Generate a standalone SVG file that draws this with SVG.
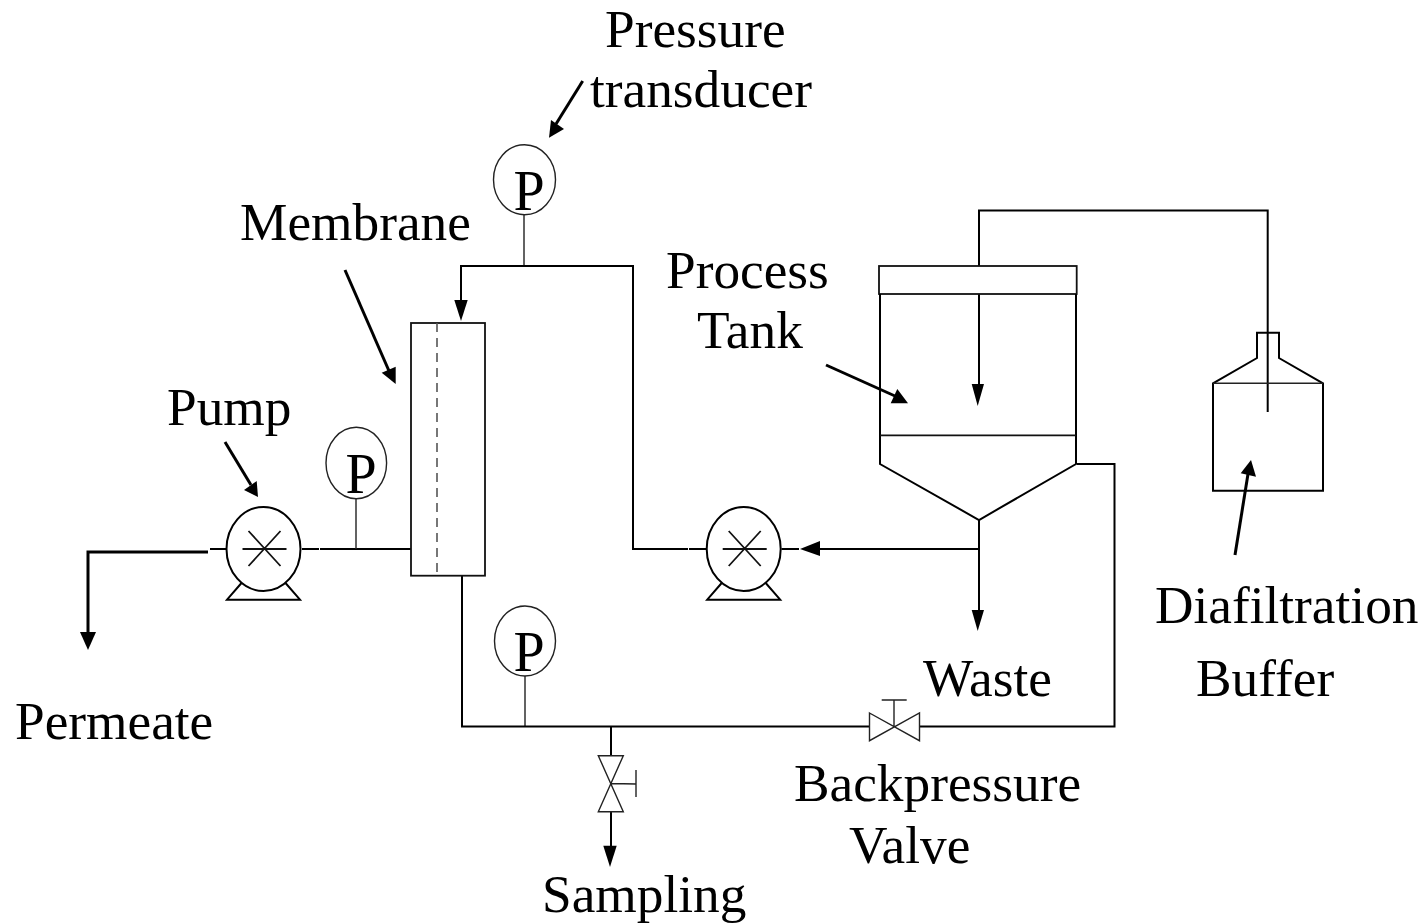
<svg xmlns="http://www.w3.org/2000/svg" width="1424" height="923" viewBox="0 0 1424 923">
<style>
.bg{fill:#fff}
.l,.s,.t,.g{fill:none;stroke:#000}
.l{stroke-width:2}
.s{stroke-width:1.8;stroke:#111}
.t{stroke-width:1.4;stroke:#222}
.g{stroke-width:3}
.d{fill:none;stroke:#555;stroke-width:1.6;stroke-dasharray:9 6}
.h{fill:#000;stroke:none}
text{font-family:"Liberation Serif","Times New Roman",serif;font-size:53.300px;fill:#000}
text.p{font-size:56px}
</style>
<defs>
<g id="pump">
<ellipse class="l" cx="0" cy="0" rx="37" ry="42"/>
<path class="s" d="M-21 0H23M-15 -18L17 17M17 -18L-15 17"/>
<path class="l" d="M-22 34L-36.500 50.700H36.500L22 34"/>
</g>
</defs>
<rect class="bg" width="1424" height="923"/>
<g id="connectors">
<path class="g" d="M208 552H88V634"/>
<polygon class="h" points="80,632 96,632 88,650"/>
<path class="l" d="M210 549H227M302 549H319M320 549H411"/>
<path class="t" d="M356 498V549M524 214V266M525 676V727"/>
<path class="l" d="M461 304V266H633V549H688M689 549H707"/>
<polygon class="h" points="454.300,300 467.700,300 461,321"/>
<path class="l" d="M781.500 549H799M818 549H979"/>
<polygon class="h" points="800,549 820,541 820,556"/>
<path class="l" d="M979 520V612"/>
<polygon class="h" points="971.700,610 984,610 977.700,631"/>
<path class="l" d="M979 294V386"/>
<polygon class="h" points="971.700,384 984,384 977.700,406"/>
<path class="l" d="M979 266V210.500H1267.700V412"/>
<path class="l" d="M1077 464H1114.500V726.500H920M870 726.500H462V576"/>
<path class="l" d="M611 727V755M611 812V847"/>
<polygon class="h" points="603.300,845.700 616.700,845.700 610,867"/>
<path class="g" d="M582.700 81L556 124"/>
<polygon class="h" points="549,137.700 551,120 564,129"/>
<path class="g" d="M345 270L389 371"/>
<polygon class="h" points="395.700,384 381.700,372.700 395.700,366.700"/>
<path class="g" d="M826 365L895 396"/>
<polygon class="h" points="908,403.300 890.700,403.300 897.300,389"/>
<path class="g" d="M225 442L251 485"/>
<polygon class="h" points="258,497 244,490 256.700,481"/>
<path class="g" d="M1235 555L1248 474"/>
<polygon class="h" points="1251,460 1240.700,473.300 1256,476.700"/>
</g>
<g id="pump-1"><use href="#pump" x="263.500" y="549"/></g>
<g id="pump-2"><use href="#pump" x="743.700" y="549"/></g>
<g id="gauge-top"><ellipse class="t" cx="524.500" cy="179.700" rx="31" ry="35"/><text class="p" x="529" y="210" text-anchor="middle">P</text></g>
<g id="gauge-left"><ellipse class="t" cx="356.300" cy="463" rx="30.300" ry="35.700"/><text class="p" x="361" y="493" text-anchor="middle">P</text></g>
<g id="gauge-bottom"><ellipse class="t" cx="525" cy="641" rx="30.500" ry="35"/><text class="p" x="529" y="671" text-anchor="middle">P</text></g>
<g id="membrane">
<rect class="s" x="411" y="323" width="74" height="252.700"/>
<path class="d" d="M437 323V575"/>
</g>
<g id="process-tank">
<rect class="s" x="879" y="266" width="197.700" height="28"/>
<path class="l" d="M880 294V464L979 520L1076 464V294"/>
<path class="s" d="M880 435.300H1076"/>
</g>
<g id="buffer-bottle">
<path class="l" d="M1213 383.300V490.700H1323V383.300L1279 358V332.700H1257V358Z"/>
<path class="t" d="M1213 383.300H1323"/>
</g>
<g id="backpressure-valve">
<path class="t" d="M869.500 713L919.500 740.700V713L869.500 740.700ZM894 727V700M881.700 700H906.700"/>
</g>
<g id="sampling-valve">
<path class="t" d="M598.300 755.700H623.300L598.300 811.700H623.300ZM611 783.500L636 784M636 770V797"/>
</g>
<g id="labels">
<text x="605" y="46.500">Pressure</text>
<text x="590" y="106.500">transducer</text>
<text x="240" y="239.500">Membrane</text>
<text x="666" y="287.500">Process</text>
<text x="697" y="347.500">Tank</text>
<text x="167" y="424.500">Pump</text>
<text x="15" y="738.500">Permeate</text>
<text x="923" y="695.500">Waste</text>
<text x="794" y="800.500">Backpressure</text>
<text x="849" y="862.500">Valve</text>
<text x="542" y="911.500">Sampling</text>
<text x="1155" y="622.500">Diafiltration</text>
<text x="1196" y="695.500">Buffer</text>
</g>
</svg>
